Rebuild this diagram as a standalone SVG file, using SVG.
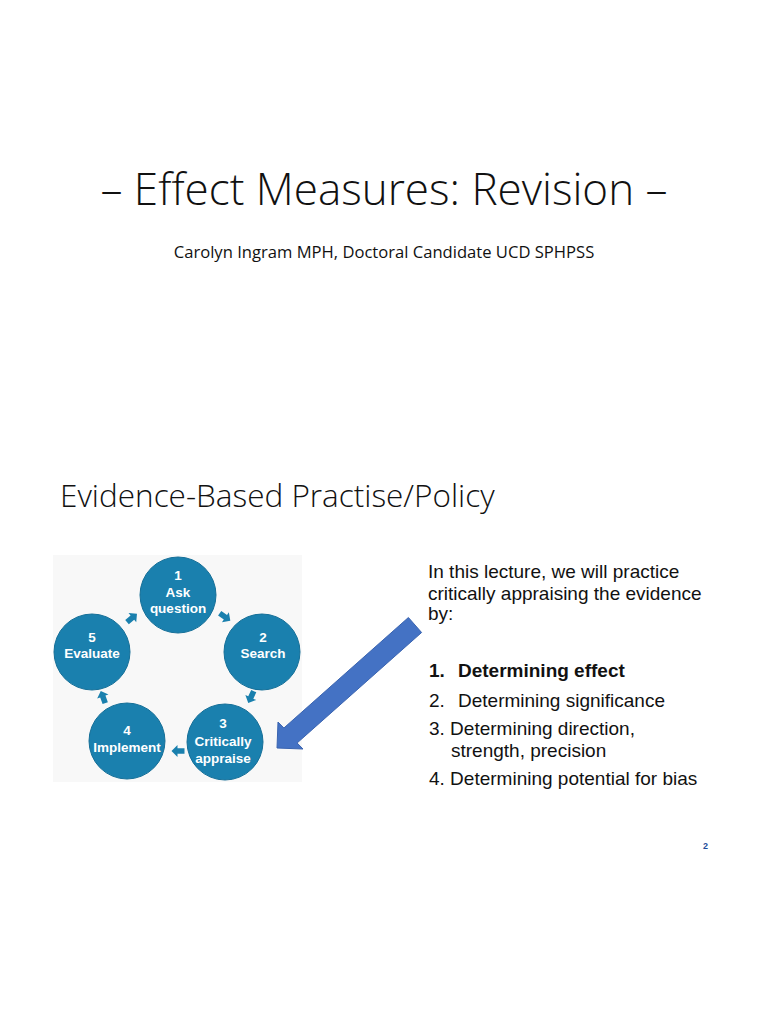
<svg xmlns="http://www.w3.org/2000/svg" width="768" height="1024" viewBox="0 0 768 1024">
<style>
.title{font-family:"Open Sans","Liberation Sans",sans-serif;font-weight:300;fill:#111;}
.sub{font-family:"Open Sans","Liberation Sans",sans-serif;font-size:16.6px;fill:#111;}
.body{font-family:"Liberation Sans",Arial,sans-serif;font-size:19px;fill:#111;}
.circ{fill:#1a80ae;stroke:#156f98;stroke-width:1;}
.ct{font-family:"Liberation Sans",Arial,sans-serif;font-size:13.5px;font-weight:bold;fill:#fff;text-anchor:middle;}
.sa{fill:#1a80ae;}
</style>
<defs>
<path id="sarrow" d="M-6.5,-2.8 L0.5,-2.8 L0.5,-6 L6.5,0 L0.5,6 L0.5,2.8 L-6.5,2.8 Z"/>
</defs>
<rect width="768" height="1024" fill="#fff"/>
<text class="title" x="384" y="205" font-size="44" text-anchor="middle">– Effect Measures: Revision –</text>
<text class="sub" x="384" y="258" text-anchor="middle">Carolyn Ingram MPH, Doctoral Candidate UCD SPHPSS</text>
<text class="title" x="60" y="507" font-size="31.5">Evidence-Based Practise/Policy</text>
<rect x="53" y="555" width="249" height="227" fill="#f8f8f8"/>
<g id="connectors" class="sa">
<use href="#sarrow" transform="translate(132,618) rotate(-40)"/>
<use href="#sarrow" transform="translate(225,617) rotate(35)"/>
<use href="#sarrow" transform="translate(251,697) rotate(115)"/>
<use href="#sarrow" transform="translate(178,751) rotate(180)"/>
<use href="#sarrow" transform="translate(103,697) rotate(-110)"/>
</g>
<g id="n1"><circle class="circ" cx="178" cy="595" r="38"/>
<text class="ct" x="178" y="580">1</text><text class="ct" x="178" y="597">Ask</text><text class="ct" x="178" y="613">question</text></g>
<g id="n2"><circle class="circ" cx="262" cy="652" r="38"/>
<text class="ct" x="263" y="642">2</text><text class="ct" x="263" y="658">Search</text></g>
<g id="n3"><circle class="circ" cx="225" cy="742" r="38"/>
<text class="ct" x="223" y="728">3</text><text class="ct" x="223" y="746">Critically</text><text class="ct" x="223" y="763">appraise</text></g>
<g id="n4"><circle class="circ" cx="127" cy="741" r="38"/>
<text class="ct" x="127" y="735">4</text><text class="ct" x="127" y="752">Implement</text></g>
<g id="n5"><circle class="circ" cx="92" cy="652" r="38"/>
<text class="ct" x="92" y="642">5</text><text class="ct" x="92" y="658">Evaluate</text></g>
<g id="bigarrow">
<polygon points="277,748 278,722 283.9,728 408.4,617.5 421.6,632.5 297.1,743 303,749" fill="#4472c4" stroke="#3a64b0" stroke-width="1"/>
</g>
<g id="textblock" class="body">
<text x="428" y="578">In this lecture, we will practice</text>
<text x="428" y="600">critically appraising the evidence</text>
<text x="428" y="620">by:</text>
<text x="429" y="677" font-weight="bold">1.</text><text x="458" y="677" font-weight="bold">Determining effect</text>
<text x="429" y="707">2.</text><text x="458" y="707">Determining significance</text>
<text x="429" y="735">3. Determining direction,</text>
<text x="451" y="757">strength, precision</text>
<text x="429" y="785">4. Determining potential for bias</text>
</g>
<text x="703" y="849" font-family="Liberation Sans,Arial,sans-serif" font-size="9" font-weight="bold" fill="#1f4e9a">2</text>
</svg>
